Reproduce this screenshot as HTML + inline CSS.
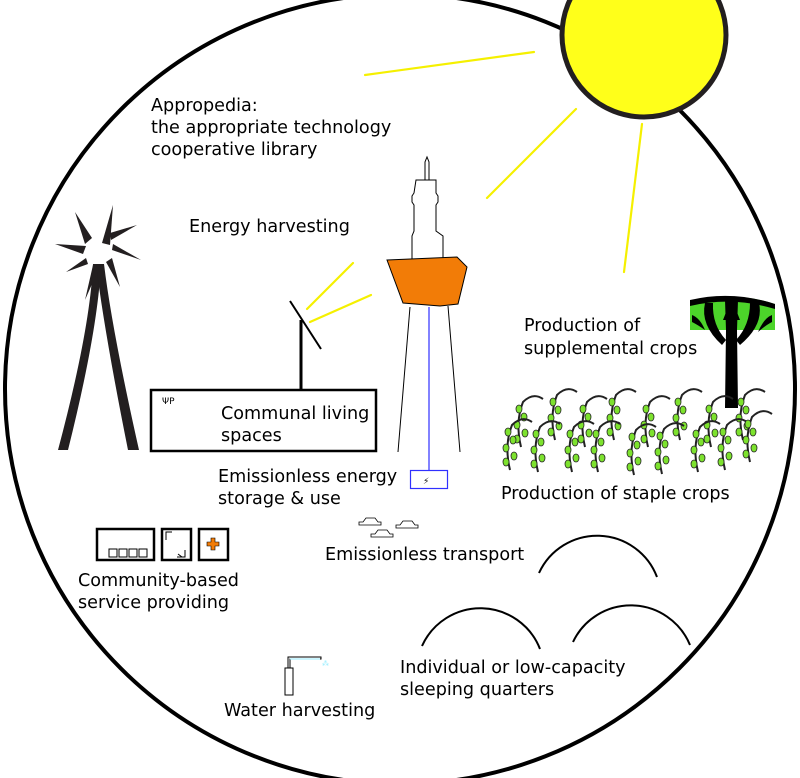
<!DOCTYPE html>
<html><head><meta charset="utf-8"><style>
html,body{margin:0;padding:0;background:#fff;}
svg{display:block}
text{font-family:"DejaVu Sans","Liberation Sans",sans-serif;font-size:17.6px;fill:#000}
</style></head><body>
<svg width="800" height="778" viewBox="0 0 800 778" xmlns="http://www.w3.org/2000/svg">
<rect width="800" height="778" fill="#fff"/>
<circle cx="400" cy="389" r="395" fill="none" stroke="#000" stroke-width="4"/>
<!-- sun -->
<circle cx="644" cy="35" r="82" fill="#ffff1a" stroke="#231f20" stroke-width="5"/>
<g stroke="#f5f000" stroke-width="2.2" stroke-linecap="round">
<line x1="365" y1="75" x2="534" y2="52"/>
<line x1="487" y1="198" x2="576" y2="109"/>
<line x1="624" y1="272" x2="642" y2="124"/>
<line x1="307" y1="309" x2="353" y2="263"/>
<line x1="310" y1="322" x2="371" y2="295"/>
</g>
<!-- windmill -->
<g fill="#231f20">
<path d="M93 264 Q90 330 58 450 L68 450 Q98 330 101 264 Z"/>
<path d="M96 264 Q104 330 128 450 L139 450 Q112 330 104 264 Z"/>
<polygon points="113,205 102,243 110,245"/>
<polygon points="75,212 92,238 85,244"/>
<polygon points="55,244 86,246 83,254"/>
<polygon points="66,272 86,258 88,264"/>
<polygon points="85,300 93,265 99,268"/>
<polygon points="120,287 106,262 112,258"/>
<polygon points="141,260 112,250 113,244"/>
<polygon points="137,225 111,240 110,233"/>
</g>
<!-- tower -->
<g fill="#fff" stroke="#000" stroke-width="1">
<path d="M425 180 L425 162 L427 157 L429 162 L429 180 Z"/>
<path d="M416 180 L436 180 L436 193 L438 196 L438 202 L436 205 L436 231 L443 236 L443 260 L412 260 L412 236 L414 231 L414 205 L412 202 L412 196 L414 193 Z"/>
<line x1="410" y1="307" x2="398" y2="452"/>
<line x1="448" y1="306" x2="460" y2="452"/>
</g>
<polygon points="387,260 457,257 467,267 458,304 440,306 403,303" fill="#f27c07" stroke="#000" stroke-width="1"/>
<line x1="429" y1="307" x2="429" y2="470" stroke="#3030ff" stroke-width="1.2"/>
<rect x="410.5" y="470.5" width="37" height="18" fill="#fff" stroke="#3030ff" stroke-width="1.2"/>
<text x="423" y="484" style="font-size:9px">⚡</text>
<!-- solar panel + communal -->
<line x1="290" y1="301" x2="321" y2="349" stroke="#000" stroke-width="2"/>
<line x1="301" y1="320" x2="301" y2="390" stroke="#000" stroke-width="3"/>
<rect x="151" y="390" width="225" height="61" fill="#fff" stroke="#000" stroke-width="2.5"/>
<text x="162" y="404" style="font-size:9px">ΨP</text>
<!-- services -->
<g fill="#fff" stroke="#000" stroke-width="2.5">
<rect x="97" y="529" width="57" height="31"/>
<rect x="162" y="529" width="29" height="31"/>
<rect x="199" y="529" width="29" height="31"/>
</g>
<g fill="#fff" stroke="#000" stroke-width="1">
<rect x="109" y="549" width="8" height="8"/><rect x="119" y="549" width="8" height="8"/><rect x="129" y="549" width="8" height="8"/><rect x="139" y="549" width="8" height="8"/>
<path d="M166 540 V532 H172 M177 557 H185 V550 M178 554 L182 557"/>
</g>
<path d="M211 538 h4 v4 h4 v4 h-4 v4 h-4 v-4 h-4 v-4 h4 z" fill="#f27c07" stroke="#000" stroke-width="0.6"/>
<!-- cars -->
<g fill="#fff" stroke="#000" stroke-width="0.8">
<path d="M359 522 h4 l3 -4 h9 l3 4 h3 v3 h-22 z"/>
<path d="M396 525 h4 l3 -4 h9 l3 4 h3 v3 h-22 z"/>
<path d="M371 534 h4 l3 -4 h9 l3 4 h3 v3 h-22 z"/>
</g>
<!-- water -->
<g fill="none" stroke="#000" stroke-width="1">
<rect x="285" y="668" width="8" height="27"/>
<path d="M288 668 V657 H321 V659 H290 V668"/>
</g>
<path d="M290 659 H320" stroke="#9ef" stroke-width="1"/>
<text x="322" y="666" style="font-size:7px;fill:#9ef">⁂</text>
<!-- domes -->
<g fill="none" stroke="#000" stroke-width="2">
<path d="M539 573 A64 64 0 0 1 657 577"/>
<path d="M422 646 A64 64 0 0 1 540 649"/>
<path d="M573 642 A64 64 0 0 1 690 645"/>
</g>
<!-- tree -->
<path d="M690 302 Q732 290 775 304 L775 330 L690 330 Z" fill="#4cd42a"/>
<g fill="#000">
<path d="M690 300 Q732 290 775 304 L775 309 Q732 296 690 306 Z"/>
<path d="M725 300 L738 300 L737 330 L738 408 L725 408 L726 330 Z"/>
<path d="M705 303 Q700 325 722 345 L726 340 Q712 325 713 303 Z"/>
<path d="M759 303 Q764 325 740 345 L736 340 Q750 325 750 303 Z"/>
<path d="M730 302 L733 302 L740 320 L723 320 Z"/>
<path d="M692 315 Q700 318 705 330 Q698 325 692 322 Z"/>
<path d="M772 315 Q764 318 758 332 Q766 325 772 322 Z"/>
</g>
<!-- staple crops -->
<defs>
<g id="pl">
<path d="M0 0 Q-6 -25 2 -45 Q12 -55 22 -48" fill="none" stroke="#222" stroke-width="2"/>
<g fill="#7de22e" stroke="#222" stroke-width="0.8">
<ellipse cx="-4" cy="-8" rx="3" ry="4"/><ellipse cx="4" cy="-14" rx="3" ry="4"/>
<ellipse cx="-4" cy="-22" rx="3" ry="4"/><ellipse cx="3" cy="-30" rx="3" ry="4"/>
<ellipse cx="-2" cy="-38" rx="3" ry="4"/>
</g>
</g>
</defs>
<g>
<use href="#pl" x="521" y="447"/><use href="#pl" x="555" y="440"/><use href="#pl" x="585" y="447"/>
<use href="#pl" x="614" y="440"/><use href="#pl" x="648" y="447"/><use href="#pl" x="680" y="440"/>
<use href="#pl" x="711" y="447"/><use href="#pl" x="743" y="440"/>
<use href="#pl" x="510" y="470"/><use href="#pl" x="538" y="472"/><use href="#pl" x="572" y="472"/>
<use href="#pl" x="598" y="472"/><use href="#pl" x="634" y="475"/><use href="#pl" x="662" y="474"/>
<use href="#pl" x="698" y="472"/><use href="#pl" x="725" y="470"/><use href="#pl" x="750" y="462"/>
</g>
<!-- labels -->
<text x="151" y="111">Appropedia:</text>
<text x="151" y="133">the appropriate technology</text>
<text x="151" y="155">cooperative library</text>
<text x="189" y="232">Energy harvesting</text>
<text x="221" y="419">Communal living</text>
<text x="221" y="441">spaces</text>
<text x="218" y="482">Emissionless energy</text>
<text x="218" y="504">storage &amp; use</text>
<text x="524" y="331">Production of</text>
<text x="524" y="354">supplemental crops</text>
<text x="501" y="499">Production of staple crops</text>
<text x="325" y="560">Emissionless transport</text>
<text x="78" y="586">Community-based</text>
<text x="78" y="608">service providing</text>
<text x="400" y="673">Individual or low-capacity</text>
<text x="400" y="695">sleeping quarters</text>
<text x="224" y="716">Water harvesting</text>
</svg>
</body></html>
